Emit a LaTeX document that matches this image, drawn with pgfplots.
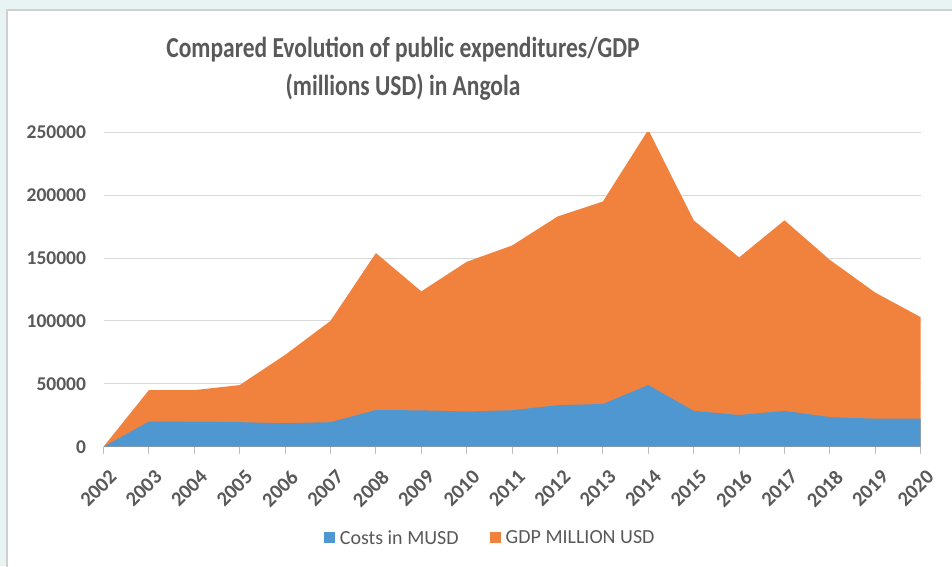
\documentclass[border=0pt]{standalone}
\usepackage{fontspec}
\setmainfont{Carlito}
\usepackage{pgfplots}
\pgfplotsset{compat=1.18}
\definecolor{bgteal}{HTML}{E8F4F4}
\definecolor{framegray}{HTML}{D0D0D0}
\definecolor{gridgray}{HTML}{D9D9D9}
\definecolor{axisgray}{HTML}{BFBFBF}
\definecolor{txtgray}{HTML}{595959}
\definecolor{costblue}{HTML}{4F97D1}
\definecolor{gdporange}{HTML}{F0823E}
\begin{document}
\begin{tikzpicture}[x=1pt,y=1pt]
\useasboundingbox (0,0) rectangle (952,566);
\clip (0,0) rectangle (952,566);
\fill[bgteal] (0,0) rectangle (952,566);
\filldraw[fill=white, draw=framegray, line width=1.5pt] (7,-10) rectangle (975,556);
\node[align=center, text=txtgray, font=\fontsize{29}{38}\selectfont\bfseries] at (403,497)
  {\scalebox{0.81}[1]{Compared Evolution of public expenditures/GDP}\\\scalebox{0.81}[1]{(millions USD) in Angola}};
\begin{axis}[
  at={(103.5pt,119.3pt)}, anchor=south west,
  scale only axis, width=817.2pt, height=314.4pt,
  xmin=0, xmax=18, ymin=0, ymax=250000,
  axis x line*=bottom, axis y line*=left,
  x axis line style={-, color=axisgray, line width=1pt},
  y axis line style={draw=none},
  xtick={0,...,18},
  xticklabels={2002,2003,2004,2005,2006,2007,2008,2009,2010,2011,2012,2013,2014,2015,2016,2017,2018,2019,2020},
  xtick align=outside, major tick length=7pt,
  xtick style={color=axisgray, line width=1pt},
  ytick={0,50000,100000,150000,200000,250000},
  ytick style={draw=none},
  ymajorgrids, grid style={gridgray, line width=1pt},
  scaled y ticks=false,
  /pgf/number format/assume math mode=true,
  /pgf/number format/fixed,
  /pgf/number format/1000 sep={},
  yticklabel style={font=\fontsize{19.5}{22}\selectfont\bfseries, text=txtgray, anchor=east, xshift=-14pt},
  xticklabel style={font=\fontsize{20.5}{22}\selectfont\bfseries, text=txtgray, rotate=45, anchor=east, xshift=-4pt, yshift=-21pt},
  legend style={at={(0.475,-0.29)}, anchor=center, draw=none, fill=none,
    font=\fontsize{20}{22}\selectfont, text=txtgray, legend columns=2,
    /tikz/every even column/.append style={column sep=26pt}},
  legend image code/.code={\fill[#1] (0pt,-5.5pt) rectangle (11pt,5.5pt);},
  legend cell align=left,
  legend style={nodes={inner xsep=5pt}},
]
\addplot[fill=gdporange, draw=none, forget plot] coordinates {
 (0,0) (1,45000) (2,45000) (3,49000) (4,73000) (5,100000) (6,154000) (7,123500)
 (8,147000) (9,160000) (10,183000) (11,195000) (12,252000) (13,180000) (14,150500)
 (15,180000) (16,148500) (17,122500) (18,103000)} \closedcycle;
\addplot[fill=costblue, draw=none] coordinates {
 (0,0) (1,20000) (2,19800) (3,19500) (4,18700) (5,19500) (6,29200) (7,28900)
 (8,28000) (9,29000) (10,33000) (11,34000) (12,49000) (13,28500) (14,25200)
 (15,28500) (16,23500) (17,22300) (18,22300)} \closedcycle;
\addlegendentry{Costs in MUSD}
\addlegendimage{fill=gdporange, draw=none}
\addlegendentry{GDP MILLION USD}
\end{axis}
\end{tikzpicture}
\end{document}
